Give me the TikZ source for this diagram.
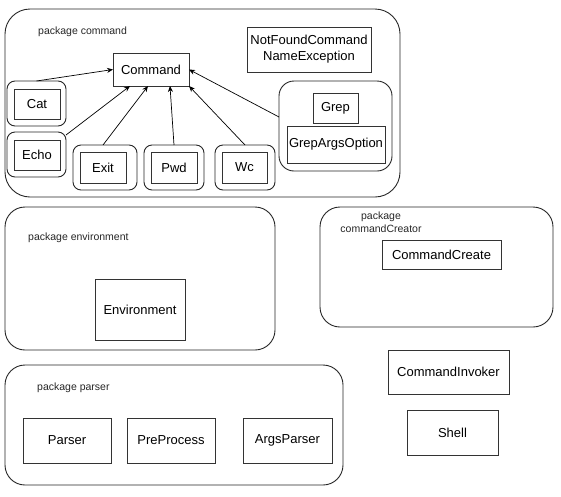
\documentclass[tikz,border=0pt]{standalone}
\usepackage{fontspec}
\setmainfont{Liberation Sans}
\usetikzlibrary{arrows.meta}
\begin{document}
\begin{tikzpicture}[x=1pt,y=-1pt,
  pkg/.style={draw=black!85, line width=0.9pt, rounded corners=#1, inner sep=0pt, outer sep=0pt},
  pkg/.default=20pt,
  cls/.style={draw=black!80, line width=0.9pt, inner sep=0pt, outer sep=0pt, align=center,
              font=\fontsize{13}{16}\selectfont},
  lbl/.style={inner sep=0pt, font=\fontsize{10.5}{13}\selectfont, text=black!85, align=center},
  inh/.style={draw=black, line width=0.7pt, -{Stealth[length=6pt,width=5pt]}}
]
\useasboundingbox (0,0) rectangle (561,496);

% package command
\node[pkg=25pt, minimum width=395pt, minimum height=188pt] (pkgCmd) at (202.5,103) {};
\node[lbl, anchor=west] (lblCmd) at (38,32) {package command};
\node[cls, minimum width=76pt, minimum height=33pt] (cmd) at (151,69.5) {Command};
\node[cls, minimum width=124pt, minimum height=45pt] (nfe) at (309,49.5) {NotFoundCommand\\NameException};

\node[pkg=8pt, minimum width=59pt, minimum height=45pt] (catO) at (36.5,103.5) {};
\node[cls, minimum width=46pt, minimum height=30pt] (catI) at (37,104) {Cat};
\node[pkg=8pt, minimum width=59pt, minimum height=45pt] (echoO) at (36.5,154.5) {};
\node[cls, minimum width=46pt, minimum height=30pt] (echoI) at (37,155) {Echo};
\node[pkg=8pt, minimum width=64pt, minimum height=45pt] (exitO) at (105,167.5) {};
\node[cls, minimum width=46pt, minimum height=31pt] (exitI) at (103,167.5) {Exit};
\node[pkg=8pt, minimum width=60pt, minimum height=45pt] (pwdO) at (174,167.5) {};
\node[cls, minimum width=46pt, minimum height=31pt] (pwdI) at (174,167.5) {Pwd};
\node[pkg=8pt, minimum width=60pt, minimum height=45pt] (wcO) at (245,167.5) {};
\node[cls, minimum width=45pt, minimum height=31pt] (wcI) at (244.5,167.5) {Wc};
\node[pkg=15pt, minimum width=113pt, minimum height=90pt] (grepO) at (335.5,126) {};
\node[cls, minimum width=45pt, minimum height=30pt] (grepI) at (335.5,108) {Grep};
\node[cls, minimum width=98pt, minimum height=37pt] (gao) at (336,144.5) {GrepArgsOption};

\draw[inh] (catO.north) -- (cmd.west);
\draw[inh] ([yshift=-3pt]echoO.north east) -- ([xshift=17pt]cmd.south west);
\draw[inh] ([xshift=-2pt]exitO.north) -- ([xshift=35pt]cmd.south west);
\draw[inh] (pwdO.north) -- ([xshift=57pt]cmd.south west);
\draw[inh] (wcO.north) -- (cmd.south east);
\draw[inh] ([yshift=9pt]grepO.west) -- (cmd.east);

% package environment
\node[pkg, minimum width=270pt, minimum height=143pt] (pkgEnv) at (140,278.5) {};
\node[lbl, anchor=west] (lblEnv) at (28,238) {package environment};
\node[cls, minimum width=90pt, minimum height=61pt] (env) at (140,309.5) {Environment};

% package commandCreator
\node[pkg, minimum width=233pt, minimum height=120pt] (pkgCC) at (436.5,267) {};
\node[lbl] (lblCC) at (381,222.5) {package\\commandCreator};
\node[cls, minimum width=119pt, minimum height=29pt] (cc) at (441.5,254.5) {CommandCreate};

% package parser
\node[pkg, minimum width=338pt, minimum height=120pt] (pkgParser) at (174,425) {};
\node[lbl, anchor=west] (lblParser) at (37,388) {package parser};
\node[cls, minimum width=88pt, minimum height=45pt] (parser) at (67,440.5) {Parser};
\node[cls, minimum width=88pt, minimum height=45pt] (pre) at (171,440.5) {PreProcess};
\node[cls, minimum width=89pt, minimum height=45pt] (args) at (287.5,440.5) {ArgsParser};

% standalone classes
\node[cls, minimum width=121pt, minimum height=44pt] (inv) at (448.5,372) {CommandInvoker};
\node[cls, minimum width=91pt, minimum height=45pt] (shell) at (452.5,432.5) {Shell};
\end{tikzpicture}
\end{document}
